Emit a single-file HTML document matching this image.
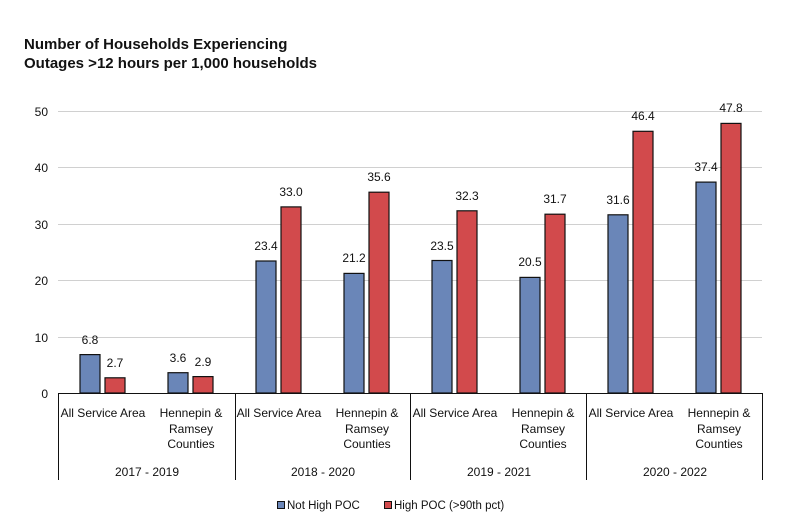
<!DOCTYPE html>
<html><head><meta charset="utf-8"><style>
html,body{margin:0;padding:0;background:#fff;}
svg{display:block;font-family:"Liberation Sans",sans-serif;}
</style></head><body>
<svg width="793" height="524" viewBox="0 0 793 524" xmlns="http://www.w3.org/2000/svg">
<text x="24" y="49" font-size="15" font-weight="bold" fill="#111">Number of Households Experiencing</text>
<text x="24" y="68" font-size="15" font-weight="bold" fill="#111">Outages &gt;12 hours per 1,000 households</text>
<g stroke="#d0d0d0" stroke-width="1">
<line x1="58" y1="111.5" x2="762" y2="111.5"/>
<line x1="58" y1="167.5" x2="762" y2="167.5"/>
<line x1="58" y1="224.5" x2="762" y2="224.5"/>
<line x1="58" y1="280.5" x2="762" y2="280.5"/>
<line x1="58" y1="337.5" x2="762" y2="337.5"/>
</g>
<g font-size="12" fill="#111" text-anchor="end">
<text x="48" y="116">50</text><text x="48" y="172">40</text><text x="48" y="229">30</text>
<text x="48" y="285">20</text><text x="48" y="342">10</text><text x="48" y="398">0</text>
</g>
<g stroke="#111" stroke-width="1.2">
<rect x="80" y="354.6" width="20" height="38.4" fill="#6a86b8"/>
<rect x="105" y="377.8" width="20" height="15.2" fill="#d24a4c"/>
<rect x="168" y="372.7" width="20" height="20.3" fill="#6a86b8"/>
<rect x="193" y="376.6" width="20" height="16.4" fill="#d24a4c"/>
<rect x="256" y="261" width="20" height="132" fill="#6a86b8"/>
<rect x="281" y="206.9" width="20" height="186.1" fill="#d24a4c"/>
<rect x="344" y="273.4" width="20" height="119.6" fill="#6a86b8"/>
<rect x="369" y="192.2" width="20" height="200.8" fill="#d24a4c"/>
<rect x="432" y="260.5" width="20" height="132.5" fill="#6a86b8"/>
<rect x="457" y="210.8" width="20" height="182.2" fill="#d24a4c"/>
<rect x="520" y="277.4" width="20" height="115.6" fill="#6a86b8"/>
<rect x="545" y="214.2" width="20" height="178.8" fill="#d24a4c"/>
<rect x="608" y="214.8" width="20" height="178.2" fill="#6a86b8"/>
<rect x="633" y="131.3" width="20" height="261.7" fill="#d24a4c"/>
<rect x="696" y="182.1" width="20" height="210.9" fill="#6a86b8"/>
<rect x="721" y="123.4" width="20" height="269.6" fill="#d24a4c"/>
</g>
<g font-size="12" fill="#111" text-anchor="middle">
<text x="90" y="344">6.8</text><text x="115" y="367">2.7</text>
<text x="178" y="362">3.6</text><text x="203" y="366">2.9</text>
<text x="266" y="250">23.4</text><text x="291" y="196">33.0</text>
<text x="354" y="262">21.2</text><text x="379" y="181">35.6</text>
<text x="442" y="250">23.5</text><text x="467" y="200">32.3</text>
<text x="530" y="266">20.5</text><text x="555" y="203">31.7</text>
<text x="618" y="204">31.6</text><text x="643" y="120">46.4</text>
<text x="706" y="171">37.4</text><text x="731" y="112">47.8</text>
</g>
<g stroke="#111" stroke-width="1">
<line x1="58" y1="393.5" x2="762" y2="393.5"/>
<line x1="58.5" y1="393" x2="58.5" y2="480"/>
<line x1="235.5" y1="393" x2="235.5" y2="480"/>
<line x1="410.5" y1="393" x2="410.5" y2="480"/>
<line x1="586.5" y1="393" x2="586.5" y2="480"/>
<line x1="762.5" y1="393" x2="762.5" y2="480"/>
</g>
<g font-size="12" fill="#111" text-anchor="middle">
<text x="103" y="417">All Service Area</text>
<text x="191" y="417">Hennepin &amp;</text><text x="191" y="433">Ramsey</text><text x="191" y="448">Counties</text>
<text x="279" y="417">All Service Area</text>
<text x="367" y="417">Hennepin &amp;</text><text x="367" y="433">Ramsey</text><text x="367" y="448">Counties</text>
<text x="455" y="417">All Service Area</text>
<text x="543" y="417">Hennepin &amp;</text><text x="543" y="433">Ramsey</text><text x="543" y="448">Counties</text>
<text x="631" y="417">All Service Area</text>
<text x="719" y="417">Hennepin &amp;</text><text x="719" y="433">Ramsey</text><text x="719" y="448">Counties</text>
<text x="147" y="476">2017 - 2019</text>
<text x="323" y="476">2018 - 2020</text>
<text x="499" y="476">2019 - 2021</text>
<text x="675" y="476">2020 - 2022</text>
</g>
<rect x="277.5" y="501.5" width="7" height="7" fill="#6a86b8" stroke="#111"/>
<text x="287" y="509" font-size="11.5" fill="#111">Not High POC</text>
<rect x="384.5" y="501.5" width="7" height="7" fill="#d24a4c" stroke="#111"/>
<text x="394" y="509" font-size="11.5" fill="#111">High POC (&gt;90th pct)</text>
</svg>
</body></html>
